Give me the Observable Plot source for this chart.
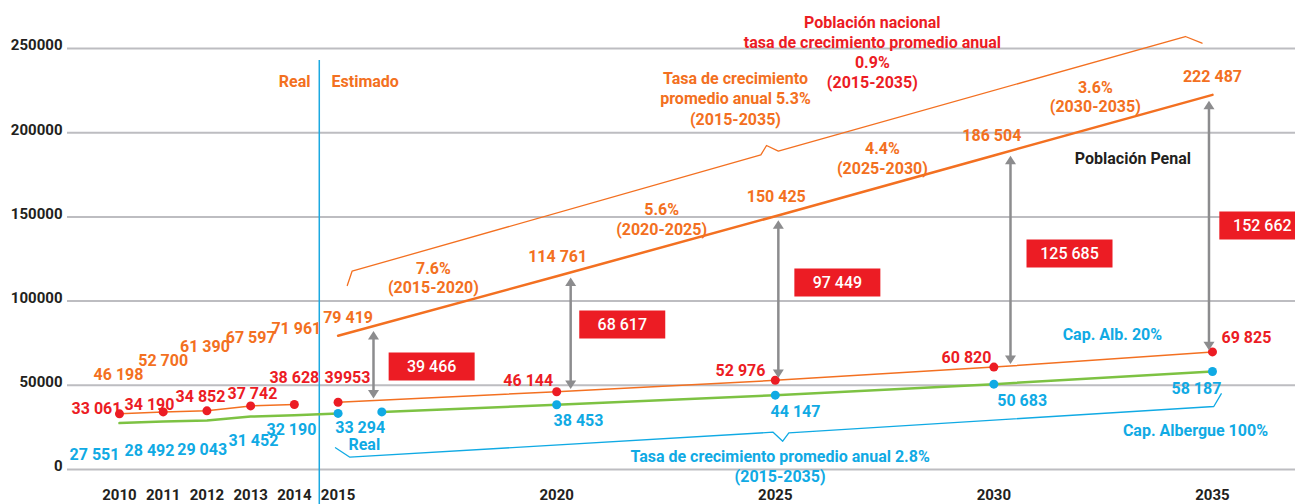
<!DOCTYPE html>
<html><head><meta charset="utf-8">
<script src="https://cdn.jsdelivr.net/npm/d3@7"></script>
<script src="https://cdn.jsdelivr.net/npm/@observablehq/plot@0.6"></script>
<style>body{margin:0;background:#fff;}</style>
</head><body><div id="chart"></div>
<script>
// ---------- data ----------
const xTicks = [2010, 2011, 2012, 2013, 2014, 2015, 2020, 2025, 2030, 2035];
const yTicks = [0, 50000, 100000, 150000, 200000, 250000];

// Población penal (real 2010-2014, estimada 2015-2035)
const popRealYears = [2010, 2011, 2012, 2013, 2014];
const popReal = [46198, 52700, 61390, 67597, 71961];
const popProjYears = [2015, 2020, 2025, 2030, 2035];
const popProj = [79419, 114761, 150425, 186504, 222487];

// Capacidad de albergue 100%
const capRealYears = [2010, 2011, 2012, 2013, 2014, 2015];
const capReal = [27551, 28492, 29043, 31452, 32190, 33294];
const capProjYears = [2016, 2020, 2025, 2030, 2035];
const capProj = [34200, 38453, 44147, 50683, 58187];

// Capacidad de albergue + 20%
const c120RealYears = [2010, 2011, 2012, 2013, 2014];
const c120Real = [33061, 34190, 34852, 37742, 38628];
const c120ProjYears = [2015, 2020, 2025, 2030, 2035];
const c120Proj = [39953, 46144, 52976, 60820, 69825];

// Brecha (población - cap. 20%)
const gapValues = [39466, 68617, 97449, 125685, 152662];

// ---------- annotation layout (data units / pixel offsets) ----------
const popDx = [-1, 0, -2, 0, 2, 10, 1, 1, -2, 0];
const popDy = [-17, -20, -19.5, -18, -19.7, -18, -19.6, -19.5, -19.7, -18];
const redDx = [-23, -13.7, -6.4, 1.8, 0, 9.4, -28.4, -34.8, -27.4, 34];
const redDy = [-5, -7.4, -13.6, -12.4, -26.2, -24, -11.2, -9, -9.2, -14];
const blueDx = [-25, -13.7, -4.7, 2.8, -2.9, 22.1, 21.8, 20.2, 28.3, -16];
const blueDy = [31.4, 29.7, 29.2, 24.3, 14.2, 14.8, 15.8, 17.1, 17.1, 17.4];
const arrowX = [2015.81, 2020.32, 2025.07, 2030.38, 2034.92];
const boxX = [2017.14, 2021.50, 2026.42, 2031.73, 2036.14];
const boxY = [61163, 86104, 111044, 128265, 144892];
const divider = 2014.57;

const topBracket = [[2015.21,109263],[2015.32,117755],[2024.67,186874],[2024.80,192398],[2025.07,189013],[2034.38,257124],[2034.76,253145]];
const bottomBracket = [[2014.94,12886],[2015.27,7304],[2024.95,22149],[2025.17,16805],[2025.31,21793],[2035.03,37411],[2035.20,44952]];

const ORANGE = "#f37021", RED = "#ec1c24", BLUE = "#10aae4", GREEN = "#7dc243",
      GRAY = "#8c8c8e", INK = "#231f20", GRID = "#bdbdc1", VLINE = "#1ba9e1";

const notes = [
  {text: "Real", x: 2014.37, y: 230402, fill: ORANGE, anchor: "end"},
  {text: "Estimado", x: 2014.85, y: 230402, fill: ORANGE, anchor: "start"},
  {text: "Población nacional\ntasa de crecimiento promedio anual\n0.9%\n(2015-2035)", x: 2027.22, y: 248306, fill: RED, lh: 1.256},
  {text: "Tasa de crecimiento\npromedio anual 5.3%\n(2015-2035)", x: 2024.09, y: 220724, fill: ORANGE, lh: 1.27},
  {text: "7.6%\n(2015-2020)", x: 2017.18, y: 114013, fill: ORANGE, lh: 1.21},
  {text: "5.6%\n(2020-2025)", x: 2022.40, y: 148871, fill: ORANGE, lh: 1.25},
  {text: "4.4%\n(2025-2030)", x: 2027.45, y: 185450, fill: ORANGE, lh: 1.25},
  {text: "3.6%\n(2030-2035)", x: 2032.32, y: 221792, fill: ORANGE, lh: 1.19},
  {text: "Población Penal", x: 2033.18, y: 184500, fill: INK},
  {text: "Cap. Alb. 20%", x: 2032.71, y: 80166, fill: BLUE},
  {text: "Cap. Albergue 100%", x: 2034.61, y: 23159, fill: BLUE},
  {text: "Tasa de crecimiento promedio anual 2.8%\n(2015-2035)", x: 2025.11, y: 2375, fill: BLUE, lh: 1.25},
  {text: "Real", x: 2015.60, y: 14667, fill: BLUE}
];

// ---------- build ----------
const zip = (xs, ys) => xs.map((x, i) => ({x, y: ys[i]}));
const spaceFmt = d3.formatLocale({decimal: ".", thousands: " ", grouping: [3], currency: ["", ""]}).format(",");
const fmt = v => v === 39953 ? "39953" : spaceFmt(v);

const popAll = zip(popRealYears.concat(popProjYears), popReal.concat(popProj));
const c120All = zip(c120RealYears.concat(c120ProjYears), c120Real.concat(c120Proj));
const capLabelPts = zip(capRealYears.concat(capProjYears.slice(1)), capReal.concat(capProj.slice(1)));
const blueDots = [{x: 2015, y: capReal[capReal.length - 1]}].concat(zip(capProjYears, capProj));

const popAt = d3.scaleLinear().domain(popProjYears).range(popProj);
const redAt = d3.scaleLinear().domain(c120ProjYears).range(c120Proj);
const arrows = arrowX.map(x => ({x, top: popAt(x), bottom: redAt(x)}));
const boxes = boxX.map((x, i) => ({x, y: boxY[i], text: fmt(gapValues[i])}));

const boxSym = {draw(ctx) { ctx.rect(-43, -14, 86, 28); }};
const upTri = {draw(ctx) { ctx.moveTo(0, 0); ctx.lineTo(5.5, 8.5); ctx.lineTo(-5.5, 8.5); ctx.closePath(); }};
const downTri = {draw(ctx) { ctx.moveTo(0, 0); ctx.lineTo(5.5, -8.5); ctx.lineTo(-5.5, -8.5); ctx.closePath(); }};

const F = {fontSize: 16, fontWeight: "bold"};
const labelMarks = [];
popAll.forEach((d, i) => labelMarks.push(Plot.text([d], {x: "x", y: "y", text: d => fmt(d.y), fill: ORANGE, dx: popDx[i], dy: popDy[i], ...F})));
c120All.forEach((d, i) => labelMarks.push(Plot.text([d], {x: "x", y: "y", text: d => fmt(d.y), fill: RED, dx: redDx[i], dy: redDy[i], ...F})));
capLabelPts.forEach((d, i) => labelMarks.push(Plot.text([d], {x: "x", y: "y", text: d => fmt(d.y), fill: BLUE, dx: blueDx[i], dy: blueDy[i], ...F})));
notes.forEach(n => labelMarks.push(Plot.text([n], {x: "x", y: "y", text: "text", fill: n.fill, textAnchor: n.anchor || "middle", lineHeight: n.lh || 1, ...F})));

const chart = Plot.plot({
  width: 1295, height: 504,
  marginLeft: 67, marginRight: 0, marginTop: 48, marginBottom: 35,
  x: {domain: [2008.811, 2036.899]},
  y: {domain: [0, 250000]},
  style: {fontFamily: "Roboto, 'DejaVu Sans', sans-serif", fontSize: "16px", color: INK, background: "#fff"},
  marks: [
    Plot.gridY({ticks: yTicks, stroke: GRID, strokeOpacity: 1, strokeWidth: 2}),
    Plot.axisY({ticks: yTicks, tickFormat: d => String(d), tickSize: 0, tickPadding: 5, fontSize: 15, fontWeight: "bold", dy: -3, label: null}),
    Plot.axisX({ticks: xTicks, tickFormat: d => String(d), tickSize: 0, tickPadding: 20, fontSize: 15, fontWeight: "bold", label: null}),
    Plot.ruleX([divider], {y1: 242874, y2: -21000, stroke: VLINE, strokeWidth: 1.5}),
    Plot.line(topBracket, {x: d => d[0], y: d => d[1], stroke: ORANGE, strokeWidth: 1.3}),
    Plot.line(bottomBracket, {x: d => d[0], y: d => d[1], stroke: BLUE, strokeWidth: 1.3}),
    Plot.line(zip(capRealYears, capReal), {x: "x", y: "y", stroke: GREEN, strokeWidth: 2.5}),
    Plot.line(zip(capProjYears, capProj), {x: "x", y: "y", stroke: GREEN, strokeWidth: 2.5}),
    Plot.line(zip(c120RealYears, c120Real), {x: "x", y: "y", stroke: ORANGE, strokeWidth: 1.5}),
    Plot.line(zip(c120ProjYears, c120Proj), {x: "x", y: "y", stroke: ORANGE, strokeWidth: 1.5}),
    Plot.line(zip(popProjYears, popProj), {x: "x", y: "y", stroke: ORANGE, strokeWidth: 2.5}),
    Plot.dot(c120All, {x: "x", y: "y", r: 4.5, fill: RED}),
    Plot.dot(blueDots, {x: "x", y: "y", r: 4.5, fill: BLUE}),
    Plot.ruleX(arrows, {x: "x", y1: "top", y2: "bottom", stroke: GRAY, strokeWidth: 2.5, insetTop: 11, insetBottom: 8}),
    Plot.dot(arrows, {x: "x", y: "top", symbol: upTri, fill: GRAY, r: 5, dy: 5}),
    Plot.dot(arrows, {x: "x", y: "bottom", symbol: downTri, fill: GRAY, r: 5, dy: -2}),
    Plot.dot(boxes, {x: "x", y: "y", symbol: boxSym, fill: RED, r: 5}),
    Plot.text(boxes, {x: "x", y: "y", text: "text", fill: "#fff", fontSize: 16, fontWeight: 500}),
    ...labelMarks
  ]
});
document.getElementById("chart").appendChild(chart);
</script></body></html>
